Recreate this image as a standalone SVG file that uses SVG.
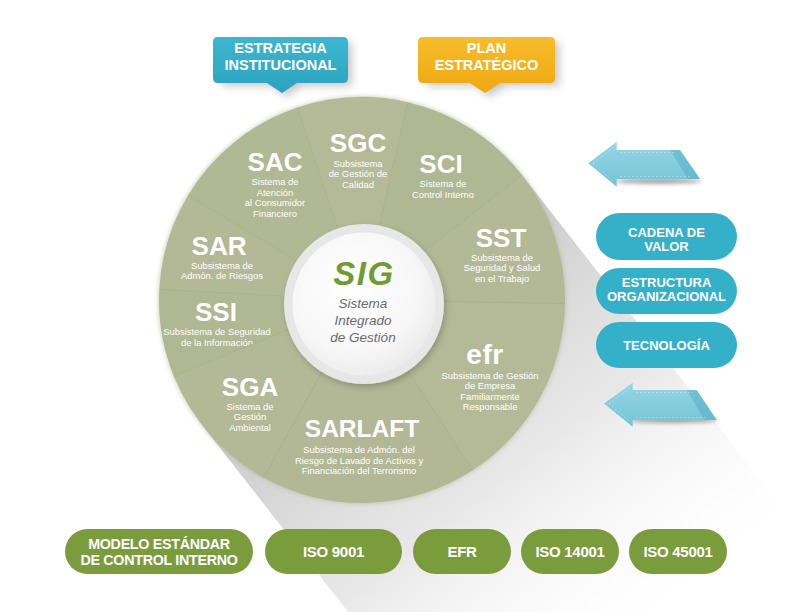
<svg xmlns="http://www.w3.org/2000/svg" width="792" height="612" viewBox="0 0 792 612">
<defs>
  <linearGradient id="longShadow" gradientUnits="userSpaceOnUse" x1="362" y1="300" x2="640" y2="655">
    <stop offset="0" stop-color="#c4c4c4" stop-opacity="0.95"/>
    <stop offset="0.5" stop-color="#dedede" stop-opacity="0.7"/>
    <stop offset="1" stop-color="#ffffff" stop-opacity="0"/>
  </linearGradient>
  <radialGradient id="disk" cx="0.42" cy="0.38" r="0.65">
    <stop offset="0" stop-color="#ffffff"/>
    <stop offset="0.7" stop-color="#f7f7f7"/>
    <stop offset="1" stop-color="#ebebeb"/>
  </radialGradient>
  <linearGradient id="blueCall" x1="0" y1="0" x2="0" y2="1">
    <stop offset="0" stop-color="#3db7d1"/>
    <stop offset="1" stop-color="#2ba3be"/>
  </linearGradient>
  <linearGradient id="orangeCall" x1="0" y1="0" x2="0" y2="1">
    <stop offset="0" stop-color="#f8bc2b"/>
    <stop offset="1" stop-color="#eea810"/>
  </linearGradient>
  <linearGradient id="arrowG" x1="0" y1="0" x2="0" y2="1">
    <stop offset="0" stop-color="#96d6e4"/>
    <stop offset="1" stop-color="#72c3d7"/>
  </linearGradient>
  <filter id="blur4" x="-30%" y="-30%" width="160%" height="160%"><feGaussianBlur stdDeviation="4"/></filter>
  <filter id="blur2" x="-30%" y="-100%" width="160%" height="300%"><feGaussianBlur stdDeviation="2"/></filter>
  <filter id="ringShadow" x="-20%" y="-20%" width="140%" height="140%">
    <feDropShadow dx="2" dy="3" stdDeviation="3" flood-color="#000" flood-opacity="0.2"/>
  </filter>
</defs>
<style>
  .t { font-family: "Liberation Sans", Arial, sans-serif; fill: #ffffff; text-anchor: middle; }
  .title { font-weight: bold; font-size: 26px; }
  .sub { font-size: 9.4px; }
  .call { font-weight: bold; font-size: 14.5px; }
  .pillB { fill: #35b0c9; }
  .pillG { fill: #7a9c3c; }
  .btn { font-weight: bold; font-size: 13px; }
  .btnG { font-weight: bold; font-size: 15px; letter-spacing: -0.3px; }
  .div { stroke: #9fa682; stroke-width: 1; stroke-opacity: 0.5; fill: none; }
  .sig { font-family: "Liberation Sans", Arial, sans-serif; text-anchor: middle; }
</style>

<rect width="792" height="612" fill="#ffffff"/>

<!-- long shadow of the wheel -->
<polygon points="522,175 830,569 510,819 202,425" fill="url(#longShadow)"/>

<!-- wheel sectors -->
<g id="wheel">
  <circle cx="362" cy="300" r="204" fill="#a9af8b" opacity="0.5" filter="url(#blur2)"/>
  <g id="sector-SST">
    <path d="M362,300 L564.97,303.54 A203,203 0 0 0 521.97,175.01 Z" fill="#b3b996"/>
    <text class="t title" x="501" y="247">SST</text>
    <text class="t sub" x="502" y="260.5">Subsistema de</text>
    <text class="t sub" x="502" y="271">Seguridad y Salud</text>
    <text class="t sub" x="502" y="281.5">en el Trabajo</text>
  </g>
  <g id="sector-SCI">
    <path d="M362,300 L521.97,175.01 A203,203 0 0 0 407.67,102.20 Z" fill="#b0b793"/>
    <text class="t title" x="441" y="173">SCI</text>
    <text class="t sub" x="443" y="187">Sistema de</text>
    <text class="t sub" x="443" y="197.5">Control Interno</text>
  </g>
  <g id="sector-SGC">
    <path d="M362,300 L407.67,102.20 A203,203 0 0 0 297.59,107.49 Z" fill="#b4ba97"/>
    <text class="t title" x="358" y="152">SGC</text>
    <text class="t sub" x="358" y="166.5">Subsistema</text>
    <text class="t sub" x="358" y="177">de Gestión de</text>
    <text class="t sub" x="358" y="187.5">Calidad</text>
  </g>
  <g id="sector-SAC">
    <path d="M362,300 L297.59,107.49 A203,203 0 0 0 187.99,195.45 Z" fill="#b1b894"/>
    <text class="t title" x="275" y="171">SAC</text>
    <text class="t sub" x="275" y="185">Sistema de</text>
    <text class="t sub" x="275" y="195.5">Atención</text>
    <text class="t sub" x="275" y="206">al Consumidor</text>
    <text class="t sub" x="275" y="216.5">Financiero</text>
  </g>
  <g id="sector-SAR">
    <path d="M362,300 L187.99,195.45 A203,203 0 0 0 159.28,289.38 Z" fill="#b3b996"/>
    <text class="t title" x="219" y="255">SAR</text>
    <text class="t sub" x="222" y="268.5">Subsistema de</text>
    <text class="t sub" x="222" y="279">Admón. de Riesgos</text>
  </g>
  <g id="sector-SSI">
    <path d="M362,300 L159.28,289.38 A203,203 0 0 0 173.78,376.04 Z" fill="#b0b793"/>
    <text class="t title" x="216" y="321">SSI</text>
    <text class="t sub" x="217" y="335">Subsistema de Seguridad</text>
    <text class="t sub" x="217" y="346">de la Información</text>
  </g>
  <g id="sector-SGA">
    <path d="M362,300 L173.78,376.04 A203,203 0 0 0 263.59,477.54 Z" fill="#b3b996"/>
    <text class="t title" x="250" y="396">SGA</text>
    <text class="t sub" x="250" y="409.5">Sistema de</text>
    <text class="t sub" x="250" y="420">Gestión</text>
    <text class="t sub" x="250" y="430.5">Ambiental</text>
  </g>
  <g id="sector-SARLAFT">
    <path d="M362,300 L263.59,477.54 A203,203 0 0 0 472.55,470.26 Z" fill="#b2b895"/>
    <text class="t title" x="362" y="437" style="font-size:24.5px">SARLAFT</text>
    <text class="t sub" x="359" y="453">Subsistema de Admón. del</text>
    <text class="t sub" x="359" y="463.5">Riesgo de Lavado de Activos y</text>
    <text class="t sub" x="359" y="474">Financiación del Terrorismo</text>
  </g>
  <g id="sector-efr">
    <path d="M362,300 L472.55,470.26 A203,203 0 0 0 564.97,303.54 Z" fill="#b4ba98"/>
    <text class="t" x="485" y="364" style="font-weight:bold;font-size:28px;letter-spacing:0.5px">efr</text>
    <text class="t sub" x="490" y="378.5">Subsistema de Gestión</text>
    <text class="t sub" x="490" y="389">de Empresa</text>
    <text class="t sub" x="490" y="399.5">Familiarmente</text>
    <text class="t sub" x="490" y="410">Responsable</text>
  </g>
  <!-- soft dividers -->
  <g>
    <line class="div" x1="362" y1="300" x2="564.97" y2="303.54"/>
    <line class="div" x1="362" y1="300" x2="521.97" y2="175.01"/>
    <line class="div" x1="362" y1="300" x2="407.67" y2="102.20"/>
    <line class="div" x1="362" y1="300" x2="297.59" y2="107.49"/>
    <line class="div" x1="362" y1="300" x2="187.99" y2="195.45"/>
    <line class="div" x1="362" y1="300" x2="159.28" y2="289.38"/>
    <line class="div" x1="362" y1="300" x2="173.78" y2="376.04"/>
    <line class="div" x1="362" y1="300" x2="263.59" y2="477.54"/>
    <line class="div" x1="362" y1="300" x2="472.55" y2="470.26"/>
  </g>
</g>

<!-- centre SIG -->
<g id="SIG">
  <circle cx="364" cy="304" r="80" fill="#e7e7e7" filter="url(#ringShadow)"/>
  <circle cx="364" cy="304" r="71.5" fill="url(#disk)"/>
  <text class="sig" x="364" y="285" style="font-weight:bold;font-style:italic;font-size:33px;letter-spacing:1.5px;fill:#6f9c30">SIG</text>
  <text class="sig" x="363" y="307.5" style="font-style:italic;font-size:13.5px;fill:#6b6b6b">Sistema</text>
  <text class="sig" x="363" y="324.5" style="font-style:italic;font-size:13.5px;fill:#6b6b6b">Integrado</text>
  <text class="sig" x="363" y="341.5" style="font-style:italic;font-size:13.5px;fill:#6b6b6b">de Gestión</text>
</g>

<!-- top callouts -->
<g id="estrategia-institucional">
  <path d="M222,42 H352 V86 H302 L287,97 L272,86 H222 Z" fill="#000" opacity="0.22" filter="url(#blur4)"/>
  <path d="M218,37 H343 Q348,37 348,42 V78 Q348,83 343,83 H297 L282,93 L267,83 H218 Q213,83 213,78 V42 Q213,37 218,37 Z" fill="url(#blueCall)"/>
  <text class="t call" x="280.5" y="53">ESTRATEGIA</text>
  <text class="t call" x="280.5" y="70">INSTITUCIONAL</text>
</g>
<g id="plan-estrategico">
  <path d="M427,42 H559 V86 H505 L490,97 L475,86 H427 Z" fill="#000" opacity="0.22" filter="url(#blur4)"/>
  <path d="M423,37 H550 Q555,37 555,42 V78 Q555,83 550,83 H500 L485,93 L470,83 H423 Q418,83 418,78 V42 Q418,37 423,37 Z" fill="url(#orangeCall)"/>
  <text class="t call" x="486.5" y="53">PLAN</text>
  <text class="t call" x="486.5" y="70">ESTRATÉGICO</text>
</g>

<!-- right side pills -->
<g id="cadena-de-valor">
  <rect class="pillB" x="596" y="213" width="141" height="47" rx="23.5"/>
  <text class="t btn" x="666.5" y="237">CADENA DE</text>
  <text class="t btn" x="666.5" y="251">VALOR</text>
</g>
<g id="estructura-organizacional">
  <rect class="pillB" x="596" y="268" width="141" height="46" rx="23"/>
  <text class="t btn" x="666.5" y="287">ESTRUCTURA</text>
  <text class="t btn" x="666.5" y="301">ORGANIZACIONAL</text>
</g>
<g id="tecnologia">
  <rect class="pillB" x="596" y="322" width="141" height="46" rx="23"/>
  <text class="t btn" x="666.5" y="350">TECNOLOGÍA</text>
</g>

<!-- connectors: arrows -->
<g id="connectors">
  <g id="arrow-top">
    <ellipse cx="658" cy="181" rx="44" ry="2.5" fill="#444" opacity="0.55" filter="url(#blur2)"/>
    <path d="M588.3,163.3 L616.7,141.7 L616.7,150 L680,150 L700,179 L616.7,179 L616.7,186.7 Z" fill="url(#arrowG)"/>
    <path d="M670,150 L680,150 L700,179 L688,179 Z" fill="#5aaec4" opacity="0.55"/>
    <path d="M593,163.3 L614,147.3 M620,152.5 H676 M620,176.5 H690 M593,163.3 L614,182" stroke="#ffffff" stroke-opacity="0.45" stroke-width="0.7" stroke-dasharray="2,2" fill="none"/>
  </g>
  <g id="arrow-bottom">
    <ellipse cx="674" cy="420" rx="44" ry="2.5" fill="#444" opacity="0.55" filter="url(#blur2)"/>
    <path d="M604,403.5 L632.7,382.7 L632.7,390 L696.7,390 L716.7,420 L632.7,420 L632.7,426.7 Z" fill="url(#arrowG)"/>
    <path d="M686.7,390 L696.7,390 L716.7,420 L704.7,420 Z" fill="#5aaec4" opacity="0.55"/>
    <path d="M609,403.5 L630,388 M636,392.5 H693 M636,417.5 H707 M609,403.5 L630,422" stroke="#ffffff" stroke-opacity="0.45" stroke-width="0.7" stroke-dasharray="2,2" fill="none"/>
  </g>
</g>

<!-- bottom pills -->
<g id="modelo-estandar">
  <rect class="pillG" x="65" y="529" width="188" height="45" rx="22.5"/>
  <text class="t btnG" x="159" y="549" style="font-size:14.3px">MODELO ESTÁNDAR</text>
  <text class="t btnG" x="159" y="565" style="font-size:14.3px">DE CONTROL INTERNO</text>
</g>
<g id="iso-9001">
  <rect class="pillG" x="265" y="529" width="137" height="45" rx="22.5"/>
  <text class="t btnG" x="333.5" y="557">ISO 9001</text>
</g>
<g id="efr-pill">
  <rect class="pillG" x="413" y="529" width="98" height="45" rx="22.5"/>
  <text class="t btnG" x="462" y="557">EFR</text>
</g>
<g id="iso-14001">
  <rect class="pillG" x="521" y="529" width="98" height="45" rx="22.5"/>
  <text class="t btnG" x="570" y="557">ISO 14001</text>
</g>
<g id="iso-45001">
  <rect class="pillG" x="629" y="529" width="98" height="45" rx="22.5"/>
  <text class="t btnG" x="678" y="557">ISO 45001</text>
</g>
</svg>
